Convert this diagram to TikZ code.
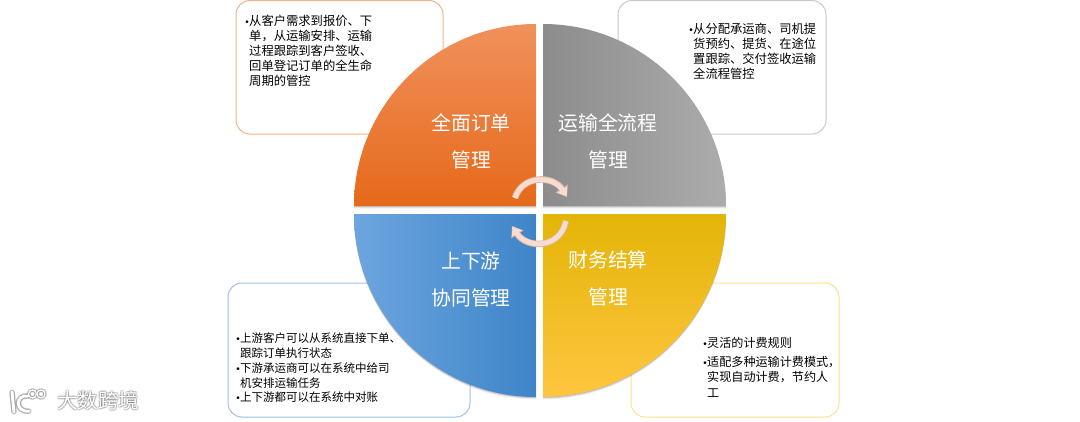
\documentclass[tikz,border=0pt]{standalone}
\usepackage{fontspec}
\setmainfont{Noto Sans CJK SC}
\newfontfamily\bulfont{Liberation Sans}
\usetikzlibrary{arrows.meta}
\definecolor{cOrangeLine}{HTML}{F0B48C}
\definecolor{cGrayLine}{HTML}{C9C9C9}
\definecolor{cBlueLine}{HTML}{9DC3E6}
\definecolor{cYellowLine}{HTML}{FFE08A}
\definecolor{cArrowEdge}{HTML}{E3B6A4}
\definecolor{cArrowFill}{HTML}{F7DCD2}
\definecolor{oTop}{HTML}{F0915C}
\definecolor{oMid}{HTML}{F47B25}
\definecolor{oBot}{HTML}{E6691A}
\definecolor{gLeft}{HTML}{8C8C8C}
\definecolor{gRight}{HTML}{ACACAC}
\definecolor{bLeft}{HTML}{6DA5DE}
\definecolor{bRight}{HTML}{3E85C8}
\definecolor{yTop}{HTML}{E3B508}
\definecolor{yMid}{HTML}{FFC400}
\definecolor{yBot}{HTML}{FFC540}
\newcommand{\bul}{\llap{\bulfont\fontsize{10}{10}\selectfont •\hspace{0.3pt}}}
\tikzset{
  x=1pt,y=-1pt,
  infobox/.style={line width=1pt,rounded corners=14pt,fill=white},
  bodytext/.style={anchor=north west,inner sep=0pt,align=left,text=black,font=\fontsize{12.3}{15}\selectfont},
  bigtext/.style={inner sep=0pt,align=center,text=white,font=\fontsize{19.8}{37}\selectfont},
  wm/.style={inner sep=0pt,anchor=west,font=\fontsize{20.5}{20.5}\selectfont},
  arrowedge/.style={line width=6.5pt,cArrowEdge,-{Triangle[length=10pt,width=14pt]}},
  arrowfill/.style={line width=4.8pt,cArrowFill,-{Triangle[length=8pt,width=11pt]},shorten >=0.8pt},
  wmline/.style={line cap=round},
}
\newcommand{\orangepath}{(536,206) -- (354,206) .. controls (354,105.5) and (435.5,24) .. (536,24) -- cycle}
\newcommand{\graypath}{(543,206) -- (543,24) .. controls (643.5,24) and (726,105.5) .. (726,206) -- cycle}
\newcommand{\bluepath}{(536,214) -- (354,214) .. controls (354,315) and (435.5,397) .. (536,397) -- cycle}
\newcommand{\yellowpath}{(543,214) -- (726,214) .. controls (726,315) and (644,397) .. (543,397) -- cycle}
\begin{document}
\begin{tikzpicture}
\useasboundingbox (0,0) rectangle (1080,421);
% info boxes
\draw[infobox,draw=cOrangeLine] (236,0.5) rectangle (443,134);
\draw[infobox,draw=cGrayLine] (618,0.5) rectangle (826,134);
\draw[infobox,draw=cBlueLine] (228,283) rectangle (470,417);
\draw[infobox,draw=cYellowLine] (631,283) rectangle (839,417);
% soft shadows
\foreach \o/\a in {2.5/0.06,1.5/0.10,0.7/0.14}{
  \begin{scope}[yshift=-\o pt]
    \fill[black,opacity=\a] \orangepath;
    \fill[black,opacity=\a] \graypath;
    \fill[black,opacity=\a] \bluepath;
    \fill[black,opacity=\a] \yellowpath;
  \end{scope}
}
% quadrants
\begin{scope}
  \clip \orangepath;
  \shade[top color=oTop,middle color=oMid,bottom color=oBot] (354,24) rectangle (536,206);
\end{scope}
\begin{scope}
  \clip \graypath;
  \shade[left color=gLeft,right color=gRight] (543,24) rectangle (726,206);
\end{scope}
\begin{scope}
  \clip \bluepath;
  \shade[left color=bLeft,right color=bRight] (354,214) rectangle (536,397);
\end{scope}
\begin{scope}
  \clip \yellowpath;
  \shade[top color=yTop,middle color=yMid,bottom color=yBot] (543,214) rectangle (726,397);
\end{scope}
% quadrant labels
\node[bigtext] (orderlabel) at (471,141) {全面订单\\管理};
\node[bigtext] (translabel) at (608,141) {运输全流程\\管理};
\node[bigtext] (colllabel) at (471,279) {上下游\\协同管理};
\node[bigtext] (finlabel) at (608,278) {财务结算\\管理};
% cycle arrows
\draw[arrowedge] (515,198) .. controls (522,175) and (553,175) .. (567,197);
\draw[arrowfill] (515,198) .. controls (522,175) and (553,175) .. (567,197);
\draw[arrowedge] (566,221) .. controls (560,249) and (527,249) .. (512,226);
\draw[arrowfill] (566,221) .. controls (560,249) and (527,249) .. (512,226);
% body text
\node[bodytext] (ordertext) at (249,15) {\bul 从客户需求到报价、下\\单，从运输安排、运输\\过程跟踪到客户签收、\\回单登记订单的全生命\\周期的管控};
\node[bodytext] (transtext) at (693,23) {\bul 从分配承运商、司机提\\货预约、提货、在途位\\置跟踪、交付签收运输\\全流程管控};
\node[bodytext,font=\fontsize{11.5}{14.7}\selectfont] (colltext) at (240,333) {\bul 上游客户可以从系统直接下单、\\跟踪订单执行状态\\\bul 下游承运商可以在系统中给司\\机安排运输任务\\\bul 上下游都可以在系统中对账};
\node[bodytext,font=\fontsize{12.1}{15.5}\selectfont] (fintext1) at (707,337) {\bul 灵活的计费规则};
\node[bodytext,font=\fontsize{12.1}{15.5}\selectfont] (fintext2) at (707,356) {\bul 适配多种运输计费模式，\\实现自动计费，节约人\\工};
% watermark
\foreach \dx/\dy in {-1/0,1/0,0/-1,0/1,1/1,-1/-1,1/-1,-1/1}{
  \node[wm,text=black,opacity=0.11] (wmhalo) at (57+\dx,401+\dy) {大数跨境};
  \begin{scope}[xshift=\dx pt,yshift=\dy pt]
    \draw[black,opacity=0.11,wmline,line width=3.5pt] (12,392) -- (14,412);
    \draw[black,opacity=0.11,wmline,line width=3.5pt] (28,396) .. controls (15,394) and (15,413) .. (29,411);
    \draw[black,opacity=0.11,line width=1.5pt] (32.5,394) circle[radius=4pt];
    \draw[black,opacity=0.11,line width=1.5pt] (41,394) circle[radius=4pt];
  \end{scope}
}
\node[wm,text=white] (wmtext) at (57,401) {大数跨境};
\draw[white,wmline,line width=3pt] (12,392) -- (14,412);
\draw[white,wmline,line width=3pt] (28,396) .. controls (15,394) and (15,413) .. (29,411);
\draw[white,line width=1.3pt] (32.5,394) circle[radius=4pt];
\draw[white,line width=1.3pt] (41,394) circle[radius=4pt];
\end{tikzpicture}
\end{document}
